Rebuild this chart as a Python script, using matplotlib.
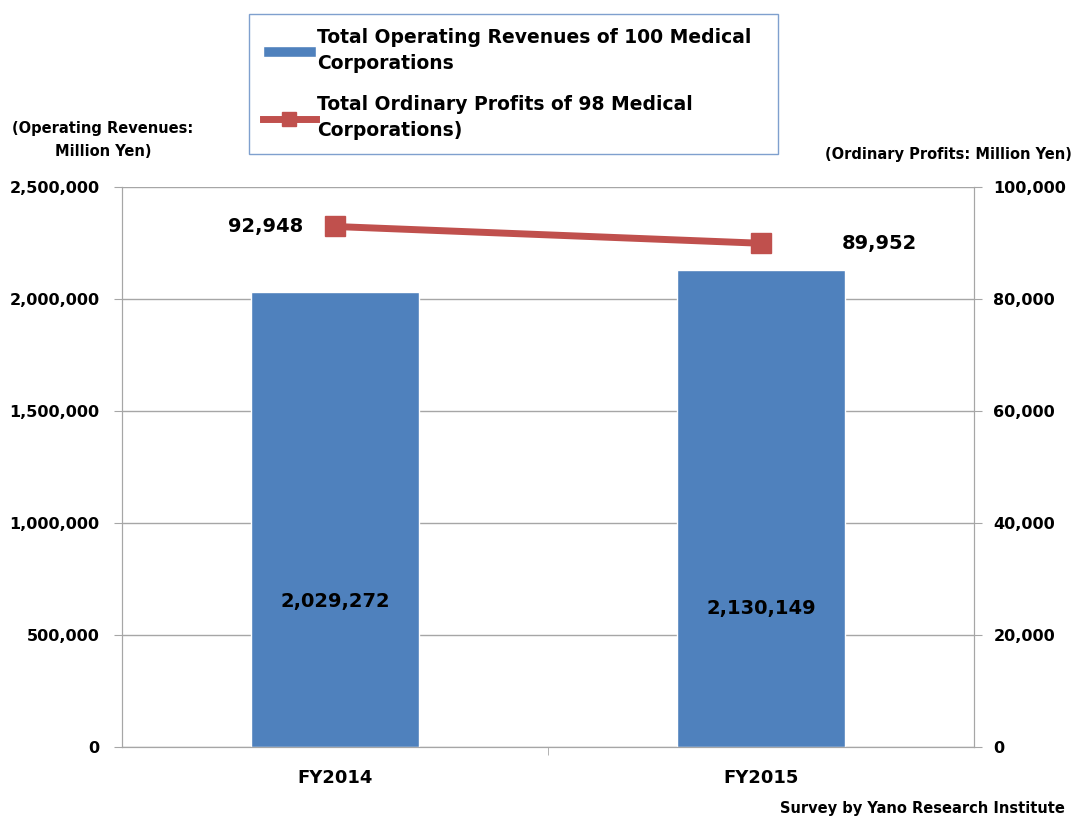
import matplotlib
matplotlib.use('Agg')
from matplotlib import pyplot as plt
from matplotlib.ticker import FuncFormatter

years = ['FY2014', 'FY2015']
revenues = [2029272, 2130149]
profits = [92948, 89952]
rev_label = 'Total Operating Revenues of 100 Medical\nCorporations'
prof_label = 'Total Ordinary Profits of 98 Medical\nCorporations)'

plt.rcParams['font.family'] = ['DejaVu Sans']
plt.rcParams['font.weight'] = 'bold'

BLUE = '#4F81BD'
RED = '#C0504D'
GRID = '#A6A6A6'

W, H = 1078, 821
fig = plt.figure(figsize=(W / 100, H / 100), dpi=100)
ax = fig.add_axes([122 / W, 1 - 747 / H, (974 - 122) / W, (747 - 187) / H])
ax2 = ax.twinx()

x = list(range(len(years)))
bars = ax.bar(x, revenues, width=0.395, color=BLUE, edgecolor='white', linewidth=1, zorder=2,
              label=rev_label)
ax.set_xlim(-0.5, 1.5)
ax.set_ylim(0, 2500000)
ax.set_yticks(range(0, 2500001, 500000))
ax.yaxis.set_major_formatter(FuncFormatter(lambda v, p: f'{int(v):,}'))
ax.grid(axis='y', color=GRID, linewidth=1, zorder=0)
ax.set_axisbelow(True)
ax.set_xticks(x)
ax.set_xticklabels(years)
ax.set_xticks([0.5], minor=True)
ax.tick_params(axis='x', which='major', length=0, pad=16, labelsize=13)
ax.tick_params(axis='x', which='minor', length=6, color=GRID)
ax.tick_params(axis='y', length=6, color=GRID, labelsize=11.5, pad=10)

label_pos = [0.32, 0.29]
for b, v, f in zip(bars, revenues, label_pos):
    ax.text(b.get_x() + b.get_width() / 2, v * f, f'{v:,}', ha='center', va='center',
            fontsize=14, fontweight='bold', color='black', zorder=3)

line, = ax2.plot(x, profits, color=RED, linewidth=5, marker='s', markersize=15,
                 label=prof_label, zorder=4)
ax2.set_ylim(0, 100000)
ax2.set_yticks(range(0, 100001, 20000))
ax2.yaxis.set_major_formatter(FuncFormatter(lambda v, p: f'{int(v):,}'))
ax2.tick_params(axis='y', length=6, color=GRID, labelsize=11.5, pad=8)

ax2.text(x[0] - 0.075, profits[0], f'{profits[0]:,}', ha='right', va='center',
         fontsize=14, fontweight='bold')
ax2.text(x[1] + 0.19, profits[1], f'{profits[1]:,}', ha='left', va='center',
         fontsize=14, fontweight='bold')

for a in (ax, ax2):
    for s in a.spines.values():
        s.set_color(GRID)
    a.spines['top'].set_visible(False)

fig.text(103 / W, 1 - 140 / H, '(Operating Revenues:\nMillion Yen)', ha='center', va='center',
         fontsize=10.5, fontweight='bold', linespacing=1.6)
fig.text(1072 / W, 1 - 155 / H, '(Ordinary Profits: Million Yen)', ha='right', va='center',
         fontsize=10.5, fontweight='bold')
fig.text(1065 / W, 1 - 808 / H, 'Survey by Yano Research Institute', ha='right', va='center',
         fontsize=10.5, fontweight='bold')

leg = fig.legend(handles=[bars, line], loc='upper left',
                 bbox_to_anchor=(249 / W, 1 - 151 / H, (778 - 249) / W, (151 - 14) / H),
                 mode='expand', fontsize=13.5, frameon=True, fancybox=False, handlelength=2.8,
                 handleheight=0.5, markerscale=0.7,
                 handletextpad=0.1, borderaxespad=0, labelspacing=1.2, borderpad=0.75,
                 framealpha=1)
for t in leg.get_texts():
    t.set_linespacing(1.45)
leg.get_frame().set_edgecolor('#7FA0CE')
leg.get_frame().set_linewidth(1)

fig.savefig('out.png', dpi=100)
